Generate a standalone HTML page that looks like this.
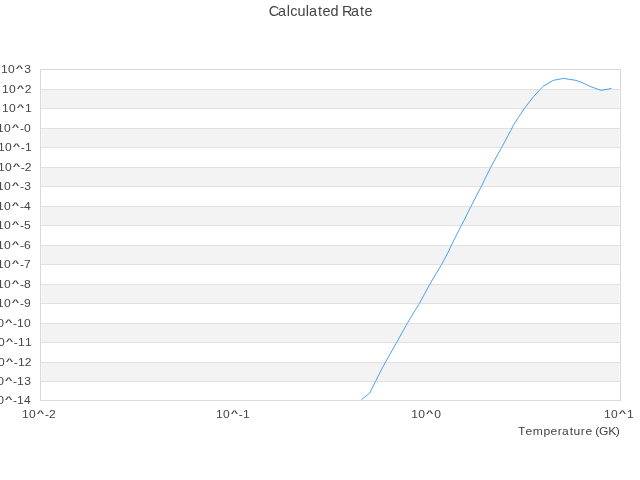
<!DOCTYPE html><html><head><meta charset="utf-8"><title>Calculated Rate</title><style>html,body{margin:0;padding:0;background:#fff;width:640px;height:480px;overflow:hidden}svg{display:block;will-change:transform}text{font-family:"Liberation Sans",sans-serif}</style></head><body>
<svg width="640" height="480" viewBox="0 0 640 480">
<rect x="41.5" y="90" width="578" height="18" fill="#f3f3f3"/>
<rect x="41.5" y="129" width="578" height="18" fill="#f3f3f3"/>
<rect x="41.5" y="168" width="578" height="18" fill="#f3f3f3"/>
<rect x="41.5" y="207" width="578" height="18" fill="#f3f3f3"/>
<rect x="41.5" y="246" width="578" height="18" fill="#f3f3f3"/>
<rect x="41.5" y="285" width="578" height="18" fill="#f3f3f3"/>
<rect x="41.5" y="324" width="578" height="18" fill="#f3f3f3"/>
<rect x="41.5" y="363" width="578" height="18" fill="#f3f3f3"/>
<rect x="41" y="89" width="579" height="1" fill="#e1e1e1"/>
<rect x="41" y="108" width="579" height="1" fill="#e1e1e1"/>
<rect x="41" y="128" width="579" height="1" fill="#e1e1e1"/>
<rect x="41" y="147" width="579" height="1" fill="#e1e1e1"/>
<rect x="41" y="167" width="579" height="1" fill="#e1e1e1"/>
<rect x="41" y="186" width="579" height="1" fill="#e1e1e1"/>
<rect x="41" y="206" width="579" height="1" fill="#e1e1e1"/>
<rect x="41" y="225" width="579" height="1" fill="#e1e1e1"/>
<rect x="41" y="245" width="579" height="1" fill="#e1e1e1"/>
<rect x="41" y="264" width="579" height="1" fill="#e1e1e1"/>
<rect x="41" y="284" width="579" height="1" fill="#e1e1e1"/>
<rect x="41" y="303" width="579" height="1" fill="#e1e1e1"/>
<rect x="41" y="323" width="579" height="1" fill="#e1e1e1"/>
<rect x="41" y="342" width="579" height="1" fill="#e1e1e1"/>
<rect x="41" y="362" width="579" height="1" fill="#e1e1e1"/>
<rect x="41" y="381" width="579" height="1" fill="#e1e1e1"/>
<rect x="40.5" y="69.5" width="580" height="331" fill="none" stroke="#d9d9d9" stroke-width="1"/>
<polyline points="361.4,399.6 369.6,393.2 375.5,381.5 381.0,370.5 385.3,362.5 396.6,342.5 407.2,323.5 415.3,310 419.4,303.5 429.7,284.5 432.3,280 441.6,264.5 449.3,250 451.25,245.5 461.25,225.5 464.2,220 470.9,206.5 480.4,188.3 490.6,167.5 494.7,160 501.6,147.5 510.9,130.3 513,125.8 518.4,117.4 524.4,108.5 533.4,96.75 543.1,86.4 553.1,80.4 563.4,78.4 575,80.2 580,81.7 590,86.4 601.25,90.4 611.6,88.4" fill="none" stroke="#4fa0f2" stroke-width="1.0"/>
<text transform="scale(1.06,1)" font-size="11.44" fill="#444444"><tspan x="1.00 7.66" y="73">10</tspan><tspan x="14.99" y="70.84" font-size="7.04" font-weight="bold" textLength="7.03" lengthAdjust="spacingAndGlyphs">^</tspan><tspan x="22.77" y="73">3</tspan></text>
<text transform="scale(1.06,1)" font-size="11.44" fill="#444444"><tspan x="1.85 8.51" y="93">10</tspan><tspan x="15.83" y="90.84" font-size="7.04" font-weight="bold" textLength="7.03" lengthAdjust="spacingAndGlyphs">^</tspan><tspan x="23.47" y="93">2</tspan></text>
<text transform="scale(1.06,1)" font-size="11.44" fill="#444444"><tspan x="1.85 8.51" y="112">10</tspan><tspan x="15.83" y="109.84" font-size="7.04" font-weight="bold" textLength="7.03" lengthAdjust="spacingAndGlyphs">^</tspan><tspan x="23.55" y="112">1</tspan></text>
<text transform="scale(1.06,1)" font-size="11.44" fill="#444444"><tspan x="-2.78 3.89" y="132">10</tspan><tspan x="11.21" y="129.84" font-size="7.04" font-weight="bold" textLength="7.03" lengthAdjust="spacingAndGlyphs">^</tspan><tspan x="18.84 22.76" y="132">-0</tspan></text>
<text transform="scale(1.06,1)" font-size="11.44" fill="#444444"><tspan x="-1.93 4.74" y="151">10</tspan><tspan x="12.06" y="148.84" font-size="7.04" font-weight="bold" textLength="7.03" lengthAdjust="spacingAndGlyphs">^</tspan><tspan x="19.68 23.55" y="151">-1</tspan></text>
<text transform="scale(1.06,1)" font-size="11.44" fill="#444444"><tspan x="-1.93 4.74" y="171">10</tspan><tspan x="12.06" y="168.84" font-size="7.04" font-weight="bold" textLength="7.03" lengthAdjust="spacingAndGlyphs">^</tspan><tspan x="19.68 23.47" y="171">-2</tspan></text>
<text transform="scale(1.06,1)" font-size="11.44" fill="#444444"><tspan x="-2.78 3.89" y="190">10</tspan><tspan x="11.21" y="187.84" font-size="7.04" font-weight="bold" textLength="7.03" lengthAdjust="spacingAndGlyphs">^</tspan><tspan x="18.84 22.77" y="190">-3</tspan></text>
<text transform="scale(1.06,1)" font-size="11.44" fill="#444444"><tspan x="-2.78 3.89" y="210">10</tspan><tspan x="11.21" y="207.84" font-size="7.04" font-weight="bold" textLength="7.03" lengthAdjust="spacingAndGlyphs">^</tspan><tspan x="18.84 22.76" y="210">-4</tspan></text>
<text transform="scale(1.06,1)" font-size="11.44" fill="#444444"><tspan x="-2.78 3.89" y="229">10</tspan><tspan x="11.21" y="226.84" font-size="7.04" font-weight="bold" textLength="7.03" lengthAdjust="spacingAndGlyphs">^</tspan><tspan x="18.84 22.72" y="229">-5</tspan></text>
<text transform="scale(1.06,1)" font-size="11.44" fill="#444444"><tspan x="-2.78 3.89" y="249">10</tspan><tspan x="11.21" y="246.84" font-size="7.04" font-weight="bold" textLength="7.03" lengthAdjust="spacingAndGlyphs">^</tspan><tspan x="18.84 22.76" y="249">-6</tspan></text>
<text transform="scale(1.06,1)" font-size="11.44" fill="#444444"><tspan x="-2.78 3.89" y="268">10</tspan><tspan x="11.21" y="265.84" font-size="7.04" font-weight="bold" textLength="7.03" lengthAdjust="spacingAndGlyphs">^</tspan><tspan x="18.84 22.74" y="268">-7</tspan></text>
<text transform="scale(1.06,1)" font-size="11.44" fill="#444444"><tspan x="-2.78 3.89" y="288">10</tspan><tspan x="11.21" y="285.84" font-size="7.04" font-weight="bold" textLength="7.03" lengthAdjust="spacingAndGlyphs">^</tspan><tspan x="18.84 22.76" y="288">-8</tspan></text>
<text transform="scale(1.06,1)" font-size="11.44" fill="#444444"><tspan x="-2.78 3.89" y="307">10</tspan><tspan x="11.21" y="304.84" font-size="7.04" font-weight="bold" textLength="7.03" lengthAdjust="spacingAndGlyphs">^</tspan><tspan x="18.84 22.73" y="307">-9</tspan></text>
<text transform="scale(1.06,1)" font-size="11.44" fill="#444444"><tspan x="-9.38 -2.71" y="327">10</tspan><tspan x="4.61" y="324.84" font-size="7.04" font-weight="bold" textLength="7.03" lengthAdjust="spacingAndGlyphs">^</tspan><tspan x="12.23 16.09 22.76" y="327">-10</tspan></text>
<text transform="scale(1.06,1)" font-size="11.44" fill="#444444"><tspan x="-8.53 -1.86" y="346">10</tspan><tspan x="5.46" y="343.84" font-size="7.04" font-weight="bold" textLength="7.03" lengthAdjust="spacingAndGlyphs">^</tspan><tspan x="13.08 16.94 23.55" y="346">-11</tspan></text>
<text transform="scale(1.06,1)" font-size="11.44" fill="#444444"><tspan x="-8.53 -1.86" y="366">10</tspan><tspan x="5.46" y="363.84" font-size="7.04" font-weight="bold" textLength="7.03" lengthAdjust="spacingAndGlyphs">^</tspan><tspan x="13.08 16.94 23.47" y="366">-12</tspan></text>
<text transform="scale(1.06,1)" font-size="11.44" fill="#444444"><tspan x="-9.38 -2.71" y="385">10</tspan><tspan x="4.61" y="382.84" font-size="7.04" font-weight="bold" textLength="7.03" lengthAdjust="spacingAndGlyphs">^</tspan><tspan x="12.23 16.09 22.77" y="385">-13</tspan></text>
<text transform="scale(1.06,1)" font-size="11.44" fill="#444444"><tspan x="-9.38 -2.71" y="404">10</tspan><tspan x="4.61" y="401.84" font-size="7.04" font-weight="bold" textLength="7.03" lengthAdjust="spacingAndGlyphs">^</tspan><tspan x="12.23 16.09 22.76" y="404">-14</tspan></text>
<text transform="scale(1.06,1)" font-size="11.44" fill="#444444"><tspan x="20.81 27.48" y="418">10</tspan><tspan x="34.80" y="415.84" font-size="7.04" font-weight="bold" textLength="7.03" lengthAdjust="spacingAndGlyphs">^</tspan><tspan x="42.42 46.21" y="418">-2</tspan></text>
<text transform="scale(1.06,1)" font-size="11.44" fill="#444444"><tspan x="203.67 210.34" y="418">10</tspan><tspan x="217.66" y="415.84" font-size="7.04" font-weight="bold" textLength="7.03" lengthAdjust="spacingAndGlyphs">^</tspan><tspan x="225.28 229.14" y="418">-1</tspan></text>
<text transform="scale(1.06,1)" font-size="11.44" fill="#444444"><tspan x="387.90 394.57" y="418">10</tspan><tspan x="401.89" y="415.84" font-size="7.04" font-weight="bold" textLength="7.03" lengthAdjust="spacingAndGlyphs">^</tspan><tspan x="409.66" y="418">0</tspan></text>
<text transform="scale(1.06,1)" font-size="11.44" fill="#444444"><tspan x="569.87 576.53" y="418">10</tspan><tspan x="583.85" y="415.84" font-size="7.04" font-weight="bold" textLength="7.03" lengthAdjust="spacingAndGlyphs">^</tspan><tspan x="591.56" y="418">1</tspan></text>
<text transform="scale(1.06,1)" font-size="11.44" fill="#444444"><tspan x="488.73 495.69 502.58 512.81 519.28 526.26 530.16 537.59 541.03 547.96 552.30 558.87 561.53 565.05 573.76 580.98" y="435">Temperature (GK)</tspan></text>
<text transform="scale(1.04,1)" font-size="13.90" fill="#444444"><tspan x="258.40 267.27 275.67 279.13 286.13 293.94 297.07 305.77 310.10 317.82 325.48 328.84 337.46 346.16 350.49" y="16">Calculated Rate</tspan></text>
</svg></body></html>
